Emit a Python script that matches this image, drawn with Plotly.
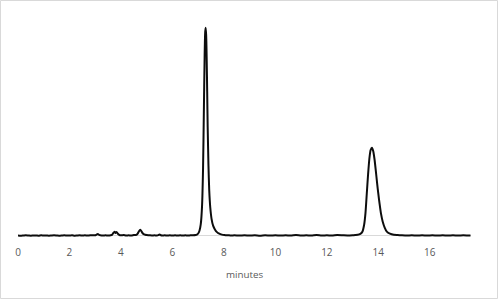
import plotly.graph_objects as go

# Chromatogram (minutes, detector signal in arbitrary units)
time_min = [
    0.0, 0.1, 0.2, 0.3, 0.4, 0.5, 0.6, 0.7, 0.8, 0.9,
    1.0, 1.1, 1.2, 1.3, 1.4, 1.5, 1.6, 1.7, 1.8, 1.9,
    2.0, 2.1, 2.2, 2.3, 2.4, 2.5, 2.6, 2.7, 2.8, 2.9,
    3.0, 3.05, 3.1, 3.15, 3.2, 3.3, 3.4, 3.5, 3.6, 3.65,
    3.7, 3.75, 3.79, 3.83, 3.88, 3.93, 4.0, 4.1, 4.2, 4.3,
    4.4, 4.5, 4.6, 4.65, 4.7, 4.75, 4.8, 4.85, 4.9, 4.95,
    5.0, 5.1, 5.2, 5.3, 5.4, 5.45, 5.5, 5.55, 5.6, 5.7,
    5.8, 5.9, 6.0, 6.1, 6.2, 6.3, 6.4, 6.5, 6.6, 6.7,
    6.8, 6.9, 6.95, 7.0, 7.05, 7.10, 7.15, 7.19, 7.22, 7.25,
    7.27, 7.29, 7.31, 7.33, 7.35, 7.37, 7.40, 7.43, 7.47, 7.52,
    7.58, 7.65, 7.73, 7.82, 7.92, 8.02, 8.1, 8.2, 8.3, 8.4,
    8.6, 8.8, 9.0, 9.2, 9.4, 9.6, 9.8, 10.0, 10.2, 10.4,
    10.6, 10.8, 11.0, 11.2, 11.4, 11.6, 11.8, 12.0, 12.2, 12.4,
    12.6, 12.8, 13.0, 13.10, 13.20, 13.30, 13.38, 13.45, 13.50, 13.55,
    13.60, 13.65, 13.70, 13.75, 13.80, 13.85, 13.90, 13.95, 14.00, 14.05,
    14.10, 14.17, 14.25, 14.33, 14.45, 14.60, 14.75, 14.9, 15.1, 15.3,
    15.5, 15.7, 15.9, 16.1, 16.3, 16.5, 16.7, 16.9, 17.1, 17.3,
    17.5, 17.58,
]
signal = [
    1, 0, 1, 2, 1, 0, 1, 1, 0, 2,
    1, 1, 0, 1, 2, 1, 0, 1, 2, 1,
    1, 2, 0, 1, 2, 1, 2, 1, 2, 2,
    2, 5, 8, 4, 2, 1, 2, 1, 2, 4,
    12, 18, 12, 17, 9, 4, 2, 3, 1, 2,
    1, 3, 4, 9, 20, 27, 19, 10, 6, 4,
    3, 2, 1, 2, 1, 3, 6, 2, 1, 2,
    1, 2, 1, 2, 1, 2, 1, 2, 1, 2,
    2, 3, 5, 10, 22, 50, 130, 300, 540, 790,
    895, 921, 890, 790, 640, 480, 310, 200, 125, 75,
    45, 28, 16, 9, 5, 3, 2, 2, 1, 2,
    1, 2, 1, 2, 0, 2, 1, 2, 1, 2,
    1, 3, 1, 2, 1, 3, 1, 2, 1, 3,
    2, 1, 2, 3, 4, 8, 18, 50, 100, 185,
    270, 340, 380, 390, 375, 340, 290, 235, 185, 140,
    100, 62, 35, 18, 9, 4, 3, 2, 1, 2,
    1, 2, 1, 2, 1, 2, 1, 2, 1, 2,
    1, 1,
]
x_ticks = [0, 2, 4, 6, 8, 10, 12, 14, 16]
x_title = "minutes"

W, H = 499, 300
ML, MR, MT, MB = 18, 28, 10, 62
PW, PH = W - ML - MR, H - MT - MB

fig = go.Figure()
fig.add_trace(go.Scatter(
    x=time_min, y=signal, mode="lines",
    line=dict(color="#0d0d0d", width=2, shape="spline", smoothing=0.6),
    hoverinfo="skip", showlegend=False,
))

# light grey outer chart border
bx0 = (0.5 - ML) / PW
bx1 = (W - 1.5 - ML) / PW
by1 = (H - MB - 0.5) / PH
by0 = (H - MB - (H - 1.5)) / PH
fig.add_shape(type="rect", xref="paper", yref="paper",
              x0=bx0, x1=bx1, y0=by0, y1=by1,
              line=dict(color="#D9D9D9", width=1), fillcolor="rgba(0,0,0,0)",
              layer="below")

fig.update_layout(
    width=W, height=H,
    margin=dict(l=ML, r=MR, t=MT, b=MB, pad=0),
    paper_bgcolor="white", plot_bgcolor="white",
    font=dict(family="Open Sans, Liberation Sans, sans-serif", size=10, color="#595959"),
    xaxis=dict(
        range=[0, 17.6], tickvals=x_ticks, ticktext=[str(v) for v in x_ticks],
        showgrid=False, zeroline=False, showline=False,
        ticks="outside", ticklen=5, tickcolor="rgba(0,0,0,0)",
        tickfont=dict(size=10, color="#595959"),
        title=dict(text=x_title, font=dict(size=9.8, color="#595959"), standoff=13),
    ),
    yaxis=dict(
        range=[-10, 1000], showgrid=False, showticklabels=False, ticks="",
        showline=False, zeroline=True, zerolinecolor="#D9D9D9", zerolinewidth=1,
    ),
)

fig.write_html("out.html")
